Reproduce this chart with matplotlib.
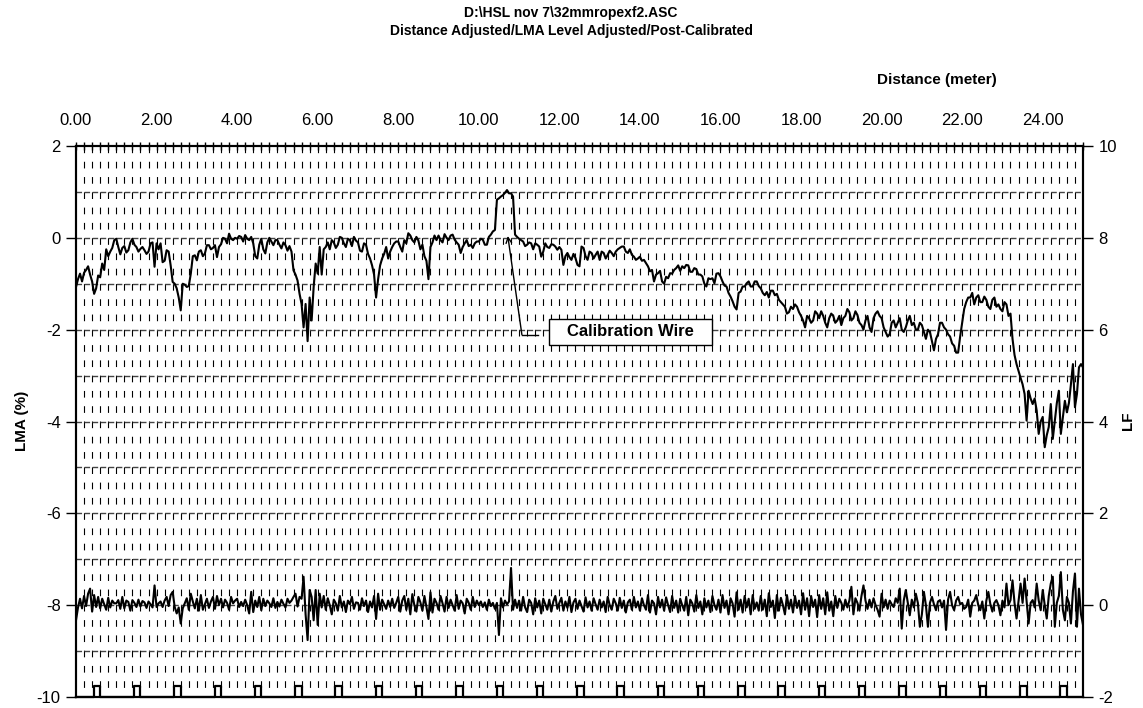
import numpy as np
import matplotlib
matplotlib.use("Agg")
import matplotlib.pyplot as plt
from matplotlib.ticker import MultipleLocator, FormatStrFormatter
from matplotlib.patches import Rectangle

plt.rcParams['font.family'] = ['Liberation Sans', 'DejaVu Sans']
plt.rcParams['axes.unicode_minus'] = False
plt.rcParams['lines.scale_dashes'] = False

title1 = "D:\\HSL nov 7\\32mmropexf2.ASC"
title2 = "Distance Adjusted/LMA Level Adjusted/Post-Calibrated"

# LMA (%) every 0.05 m, left axis (one row per metre)
lma_step = 0.05
lma = [
    -1.07, -0.90, -0.78, -0.95, -0.76, -0.70, -0.62, -0.80, -0.95, -1.22, -1.10, -0.82, -0.86, -0.56, -0.70, -0.25, -0.40, -0.30, -0.22, -0.05,
    -0.02, -0.20, -0.36, -0.22, -0.18, -0.32, -0.27, -0.10, -0.02, -0.15, -0.20, -0.30, -0.24, -0.20, -0.27, -0.35, -0.30, -0.12, -0.10, -0.63,
    -0.12, -0.25, -0.12, -0.53, -0.50, -0.27, -0.30, -0.60, -0.96, -1.00, -1.10, -1.30, -1.58, -1.00, -1.02, -1.07, -1.05, -0.78, -0.40, -0.38,
    -0.49, -0.30, -0.27, -0.40, -0.34, -0.16, -0.16, -0.25, -0.22, -0.16, -0.42, -0.20, -0.14, 0.00, -0.02, -0.12, 0.09, -0.02, -0.05, 0.00,
    -0.02, 0.04, 0.02, -0.08, 0.06, -0.02, -0.05, 0.02, -0.12, -0.40, -0.45, -0.15, -0.02, -0.25, -0.34, -0.10, 0.00, -0.08, -0.16, -0.05,
    -0.05, -0.15, -0.23, -0.10, -0.16, -0.28, -0.18, -0.30, -0.71, -0.80, -0.93, -1.22, -1.44, -1.95, -1.44, -2.25, -1.30, -1.80, -1.07, -0.56,
    -0.78, -0.20, -0.80, -0.25, -0.20, -0.10, -0.25, -0.05, -0.10, -0.22, -0.15, 0.02, 0.00, -0.12, -0.20, -0.02, -0.05, -0.18, 0.02, -0.06,
    -0.10, -0.28, -0.30, -0.12, -0.15, -0.35, -0.45, -0.60, -0.80, -1.30, -0.90, -0.60, -0.45, -0.35, -0.20, -0.45, -0.30, -0.20, -0.12, -0.08,
    -0.08, -0.20, -0.30, -0.05, -0.12, 0.10, 0.05, -0.05, -0.10, 0.02, -0.06, -0.25, -0.15, -0.40, -0.50, -0.90, -0.20, -0.10, 0.05, -0.05,
    0.05, -0.05, -0.10, 0.08, 0.00, -0.05, 0.05, 0.07, -0.04, -0.10, -0.15, -0.33, -0.20, -0.12, -0.05, -0.18, -0.15, -0.22, -0.12, -0.08,
    -0.08, -0.02, -0.04, -0.15, -0.15, 0.02, 0.07, 0.14, 0.17, 0.83, 0.86, 0.90, 0.93, 0.98, 1.04, 0.97, 0.97, 0.90, 0.07, 0.02,
    -0.02, -0.05, -0.08, -0.18, -0.15, -0.10, -0.12, -0.25, -0.12, -0.15, -0.19, -0.41, -0.30, -0.12, -0.20, -0.22, -0.14, -0.15, -0.19, -0.26,
    -0.20, -0.26, -0.59, -0.40, -0.33, -0.42, -0.48, -0.35, -0.44, -0.59, -0.62, -0.19, -0.22, -0.40, -0.48, -0.30, -0.33, -0.45, -0.37, -0.30,
    -0.48, -0.30, -0.33, -0.45, -0.37, -0.28, -0.33, -0.40, -0.30, -0.25, -0.22, -0.19, -0.19, -0.30, -0.33, -0.25, -0.37, -0.41, -0.48, -0.45,
    -0.41, -0.50, -0.48, -0.55, -0.62, -0.73, -0.70, -0.95, -0.80, -0.77, -0.72, -0.95, -1.00, -0.85, -0.88, -0.77, -0.78, -0.70, -0.66, -0.60,
    -0.72, -0.62, -0.66, -0.59, -0.60, -0.74, -0.74, -0.66, -0.68, -0.80, -0.80, -0.84, -1.00, -1.06, -0.88, -0.90, -0.88, -0.99, -0.78, -0.77,
    -0.84, -0.95, -1.04, -1.06, -1.20, -1.28, -1.38, -1.50, -1.56, -1.20, -1.17, -1.06, -1.06, -0.99, -0.95, -1.06, -1.06, -0.95, -0.95, -1.05,
    -1.10, -1.20, -1.25, -1.18, -1.30, -1.15, -1.15, -1.25, -1.22, -1.35, -1.40, -1.45, -1.50, -1.65, -1.62, -1.50, -1.55, -1.45, -1.50, -1.62,
    -1.70, -1.80, -1.95, -1.70, -1.75, -1.85, -1.80, -1.60, -1.65, -1.75, -1.60, -1.70, -1.85, -1.95, -1.75, -1.65, -1.70, -1.85, -1.80, -1.70,
    -1.90, -1.75, -1.70, -1.55, -1.62, -1.80, -1.75, -1.60, -1.68, -1.85, -1.90, -2.00, -1.80, -1.70, -1.95, -2.05, -1.75, -1.65, -1.60, -1.70,
    -1.75, -1.95, -2.05, -2.15, -2.10, -1.85, -1.80, -1.95, -1.85, -1.75, -2.00, -2.05, -1.95, -1.80, -1.70, -1.90, -1.85, -2.00, -2.00, -1.85,
    -1.90, -2.05, -2.20, -2.00, -2.05, -2.25, -2.45, -2.20, -2.10, -1.85, -1.85, -1.95, -2.00, -2.10, -2.15, -2.30, -2.35, -2.50, -2.50, -2.15,
    -1.85, -1.55, -1.40, -1.30, -1.30, -1.20, -1.45, -1.30, -1.25, -1.40, -1.40, -1.28, -1.35, -1.50, -1.55, -1.35, -1.30, -1.50, -1.45, -1.55,
    -1.60, -1.40, -1.45, -1.70, -1.65, -2.20, -2.55, -2.75, -2.90, -3.05, -3.19, -3.40, -3.98, -3.33, -3.50, -3.62, -3.50, -3.76, -4.27, -4.00,
    -3.90, -4.56, -4.30, -4.12, -3.62, -4.38, -4.00, -3.60, -3.33, -4.27, -3.90, -3.55, -3.80, -3.60, -3.19, -2.75, -3.69, -3.40, -2.82, -2.75,
    -2.82,
]

# LF every 0.05 m, right axis
lf_step = 0.05
lf = [
    -0.33, -0.05, 0.14, -0.07, 0.20, -0.02, 0.25, 0.36, -0.14, 0.22, -0.04, 0.18, -0.07, 0.14, 0.02, -0.10, 0.16, -0.05, 0.10, 0.04,
    0.04, 0.11, -0.08, 0.18, -0.07, 0.10, 0.07, -0.12, 0.11, 0.05, -0.04, 0.12, -0.03, 0.09, 0.06, -0.06, 0.08, 0.02, -0.05, 0.43,
    -0.04, 0.04, 0.08, -0.04, 0.10, 0.18, -0.02, 0.22, 0.29, -0.04, -0.18, -0.05, -0.40, -0.07, 0.04, 0.15, -0.10, 0.25, 0.08, -0.07,
    0.14, -0.12, 0.22, -0.10, 0.02, 0.14, -0.06, 0.08, 0.18, -0.08, 0.20, 0.00, 0.14, -0.05, 0.12, 0.05, -0.10, 0.18, 0.04, 0.10,
    0.14, -0.04, 0.07, -0.02, 0.12, 0.00, -0.18, 0.29, -0.15, 0.10, -0.04, 0.18, -0.11, 0.14, -0.02, 0.10, 0.04, -0.04, 0.15, -0.06,
    0.07, -0.03, 0.12, 0.03, -0.05, 0.14, 0.05, 0.10, 0.18, 0.25, -0.03, 0.18, 0.14, 0.62, -0.20, -0.76, 0.33, 0.18, -0.33, 0.33,
    -0.43, 0.25, -0.05, 0.20, -0.10, 0.15, 0.00, -0.20, 0.12, 0.04, -0.12, 0.20, -0.05, 0.08, -0.15, 0.10, 0.02, 0.18, -0.08, 0.06,
    0.05, -0.10, 0.15, -0.02, 0.10, -0.15, 0.08, -0.05, 0.20, -0.30, 0.25, -0.10, 0.12, 0.02, -0.08, 0.10, -0.04, 0.14, -0.06, 0.05,
    0.18, -0.14, 0.10, 0.20, -0.10, 0.14, -0.20, 0.24, 0.00, -0.14, 0.18, 0.06, -0.12, 0.20, -0.04, -0.30, 0.28, -0.16, 0.14, 0.05,
    -0.10, 0.20, 0.04, -0.14, 0.18, -0.06, 0.12, 0.00, -0.12, 0.22, -0.08, 0.10, 0.04, -0.18, 0.14, 0.05, -0.10, 0.18, -0.04, 0.10,
    0.00, 0.08, -0.04, 0.06, -0.10, 0.12, -0.02, 0.05, -0.08, 0.05, -0.65, 0.15, -0.05, 0.10, 0.02, 0.08, 0.81, -0.10, 0.12, -0.06,
    0.10, -0.12, 0.18, -0.05, -0.15, 0.12, 0.05, -0.20, 0.15, -0.05, 0.10, -0.18, 0.14, 0.02, -0.10, 0.12, -0.14, 0.08, 0.20, -0.08,
    0.05, 0.16, -0.12, 0.08, -0.06, 0.18, -0.15, 0.06, 0.14, -0.08, 0.10, -0.02, -0.14, 0.17, -0.05, 0.08, -0.12, 0.15, 0.02, -0.10,
    0.12, -0.05, 0.08, -0.15, 0.18, 0.00, -0.10, 0.14, 0.04, -0.12, 0.16, -0.06, 0.10, -0.16, 0.06, 0.12, -0.10, 0.18, -0.05, 0.08,
    -0.12, 0.15, 0.00, -0.10, 0.22, -0.16, 0.10, 0.04, -0.20, 0.18, -0.05, 0.12, -0.12, 0.17, 0.00, -0.15, 0.20, -0.06, 0.10, -0.16,
    0.14, 0.00, -0.12, 0.18, -0.22, 0.12, 0.04, -0.14, 0.22, -0.06, 0.08, -0.20, 0.15, -0.05, 0.10, -0.15, 0.20, 0.00, -0.10, 0.12,
    -0.16, 0.22, -0.06, 0.10, -0.20, 0.15, 0.04, -0.25, 0.28, -0.10, 0.12, -0.16, 0.20, -0.05, 0.14, -0.20, 0.22, -0.08, 0.06, -0.12,
    0.20, -0.10, 0.12, -0.24, 0.26, -0.04, 0.10, -0.28, 0.22, -0.12, 0.16, 0.00, -0.20, 0.22, -0.08, 0.12, -0.16, 0.20, -0.06, 0.10,
    -0.20, 0.26, -0.10, 0.15, -0.24, 0.20, -0.04, 0.12, -0.26, 0.22, -0.08, 0.15, -0.20, 0.28, -0.12, 0.08, -0.24, 0.20, -0.06, 0.14,
    0.05, -0.10, 0.12, -0.05, 0.10, 0.40, -0.20, 0.15, 0.05, -0.12, 0.20, 0.43, 0.10, -0.08, 0.12, -0.05, 0.15, 0.00, -0.10, -0.25,
    0.25, -0.05, 0.12, -0.08, 0.10, 0.02, -0.04, 0.15, 0.05, 0.36, -0.51, 0.10, 0.33, 0.05, -0.22, 0.12, -0.05, 0.25, 0.05, -0.47,
    -0.20, 0.29, 0.00, -0.47, 0.05, 0.18, 0.02, -0.11, 0.08, 0.11, -0.05, 0.10, -0.54, 0.12, 0.29, 0.00, -0.11, 0.10, 0.18, 0.02,
    0.05, -0.08, -0.04, 0.12, -0.25, 0.05, 0.10, 0.22, 0.00, -0.11, 0.08, -0.29, 0.10, 0.29, 0.02, -0.14, 0.05, 0.11, 0.00, -0.22,
    0.10, -0.05, 0.47, 0.00, 0.11, 0.54, 0.05, -0.29, 0.10, 0.47, 0.05, 0.58, 0.10, -0.40, 0.05, 0.11, -0.05, 0.47, 0.10, -0.11,
    0.33, 0.00, -0.29, 0.20, 0.47, 0.62, -0.47, 0.05, 0.20, 0.72, -0.10, -0.33, 0.18, 0.05, -0.40, 0.30, 0.69, -0.47, 0.36, -0.20,
    -0.43,
]

# distance markers (square pulses along the bottom)
pulse_start = [0.44, 1.44, 2.44, 3.44, 4.44, 5.44, 6.44, 7.44, 8.44, 9.44,
               10.44, 11.44, 12.44, 13.44, 14.44, 15.44, 16.44, 17.44, 18.44, 19.44,
               20.44, 21.44, 22.44, 23.44, 24.44]
pulse_width = 0.16
pulse_base = -10.0
pulse_top = -9.75

x_ticks = [0, 2, 4, 6, 8, 10, 12, 14, 16, 18, 20, 22, 24]
lma_ticks = [-10, -8, -6, -4, -2, 0, 2]
lf_ticks = [-2, 0, 2, 4, 6, 8, 10]

lma_x = np.arange(len(lma)) * lma_step
lf_x = np.arange(len(lf)) * lf_step

fig = plt.figure(figsize=(11.43, 7.08), dpi=100)
ax = fig.add_axes([76 / 1143, 11 / 708, (1083 - 76) / 1143, (697 - 146) / 708])
ax.set_xlim(0, 25)
ax.set_ylim(-10, 2)

# grid: dashed verticals every 0.2 m, dashed horizontals every 1 %
vx = np.arange(0.2, 25.0, 0.2)
ax.vlines(vx, 2, -10, colors='black', linewidth=0.8, linestyles=[(0, (4.8, 6.2))], zorder=1)
hy = np.arange(-9, 2, 1)
ax.hlines(hy, 0, 25, colors='#444444', linewidth=1.0, linestyles=[(0, (4.0, 1.8))], zorder=1)

ax.plot(lma_x, lma, color='black', linewidth=1.5, zorder=3)

px, py = [0.0], [pulse_base]
for s in pulse_start:
    px += [s, s, s + pulse_width, s + pulse_width]
    py += [pulse_base, pulse_top, pulse_top, pulse_base]
px.append(25.0)
py.append(pulse_base)
ax.plot(px, py, color='black', linewidth=1.6, zorder=3, clip_on=False)

# x axis on top
ax.xaxis.tick_top()
ax.set_xticks(x_ticks)
ax.xaxis.set_major_formatter(FormatStrFormatter('%.2f'))
ax.xaxis.set_minor_locator(MultipleLocator(0.2))
ax.tick_params(axis='x', which='both', direction='inout', length=6, width=1, labelsize=12, pad=10)
ax.set_yticks(lma_ticks)
ax.tick_params(axis='y', direction='out', length=7, width=1, labelsize=12, pad=4)
for s in ax.spines.values():
    s.set_linewidth(1.5)

ax2 = ax.twinx()
ax2.set_ylim(-2, 10)
ax2.set_yticks(lf_ticks)
ax2.tick_params(axis='y', direction='out', length=7, width=1, labelsize=12, pad=4)
ax2.plot(lf_x, lf, color='black', linewidth=1.5, zorder=3)
for s in ax2.spines.values():
    s.set_linewidth(1.5)

# callout
ax.annotate('', xy=(10.72, 0.04), xytext=(11.07, -2.11),
            arrowprops=dict(arrowstyle='->', lw=1, color='black', shrinkA=0, shrinkB=0),
            zorder=6)
ax.plot([11.07, 11.46], [-2.11, -2.11], color='black', linewidth=1, zorder=6)
ax.add_patch(Rectangle((11.74, -2.33), 4.04, 0.57, facecolor='white',
                       edgecolor='black', linewidth=1, zorder=6))
ax.text(13.76, -2.05, 'Calibration Wire', ha='center', va='center',
        fontsize=12, fontweight='bold', zorder=7)

fig.text(0.4996, 1 - 13 / 708, title1, ha='center', va='center', fontsize=10, fontweight='bold')
fig.text(0.4996, 1 - 31 / 708, title2, ha='center', va='center', fontsize=10, fontweight='bold')
fig.text(997 / 1143, 1 - 80 / 708, 'Distance (meter)', ha='right', va='center', fontsize=11, fontweight='bold')
fig.text(22 / 1143, 1 - 421 / 708, 'LMA (%)', ha='center', va='center', rotation=90, fontsize=11, fontweight='bold')
fig.text(1128 / 1143, 1 - 421 / 708, 'LF', ha='center', va='center', rotation=90, fontsize=11, fontweight='bold')

fig.savefig('out.png', dpi=100)
